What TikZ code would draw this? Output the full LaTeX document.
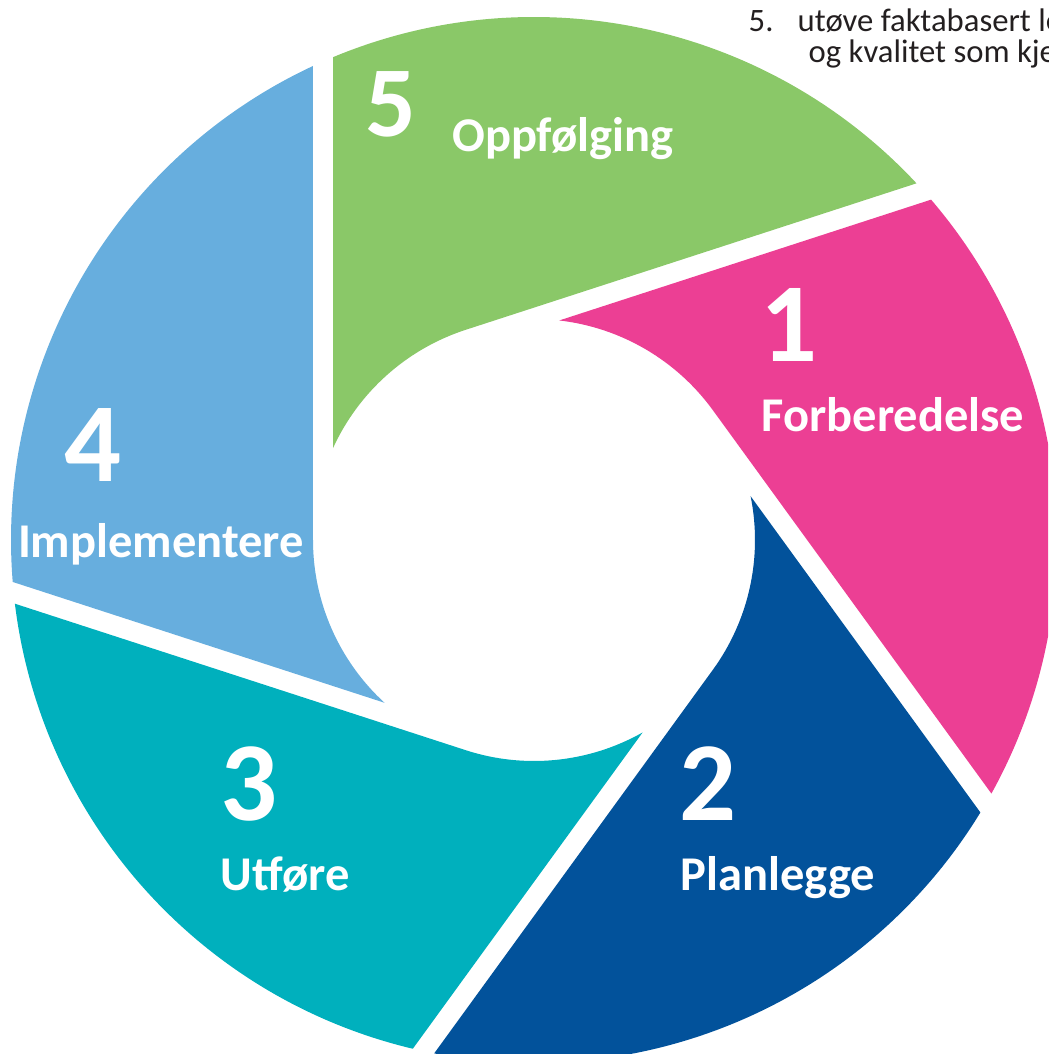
\documentclass[tikz,border=0pt]{standalone}
\usepackage{fontspec}
\setmainfont{Carlito}

\definecolor{fase1}{HTML}{EC3F94}
\definecolor{fase2}{HTML}{02529B}
\definecolor{fase3}{HTML}{00B0BD}
\definecolor{fase4}{HTML}{67AEDE}
\definecolor{fase5}{HTML}{8AC868}
\definecolor{tekst}{HTML}{231F20}

\tikzset{
  stepnum/.style={text=white, inner sep=0pt, anchor=base,
    font=\bfseries\fontsize{32}{32}\selectfont},
  steplabel/.style={text=white, inner sep=0pt, anchor=base,
    font=\bfseries\fontsize{13.8}{14}\selectfont},
  listtext/.style={text=tekst, inner sep=0pt, anchor=base west,
    font=\fontsize{9.3}{11}\selectfont}
}

\begin{document}
\begin{tikzpicture}
  % Ring measures: outer radius, inner radius, width of the cuts
  \pgfmathsetmacro{\Rout}{5.23}
  \pgfmathsetmacro{\Rin}{2.21}
  \pgfmathsetmacro{\cut}{0.20}
  \pgfmathsetmacro{\alph}{acos((\Rin-\cut)/\Rin)}
  \pgfmathsetmacro{\bet}{acos((\Rin-\cut)/\Rout)}
  \pgfmathsetmacro{\gam}{acos(\Rin/\Rout)}

  % Page frame
  \clip (-5.34,-5.14) rectangle (5.14,5.40);

  % Draw the five segments, each cut along a tangent of the inner circle
  \foreach \ta/\col in {180/fase5, 108/fase1, 36/fase2, -36/fase3, -108/fase4} {
    \pgfmathsetmacro{\tb}{\ta-72}
    \fill[\col] ({\ta-\alph}:\Rin)
      arc[start angle={\ta-\alph}, end angle=\tb, radius=\Rin]
      -- ({\tb-\gam}:\Rout)
      arc[start angle={\tb-\gam}, end angle={\ta-\bet}, radius=\Rout] -- cycle;
  }

  % Numbers and names of the steps
  \node[stepnum, font=\bfseries\fontsize{28.5}{28}\selectfont] (n5) at (-1.43,4.03) {5};
  \node[steplabel] (l5) at (0.29,3.88) {Oppfølging};
  \node[stepnum] (n1) at (2.55,1.78) {1};
  \node[steplabel] (l1) at (3.59,1.08) {Forberedelse};
  \node[stepnum] (n2) at (1.74,-2.80) {2};
  \node[steplabel] (l2) at (2.44,-3.50) {Planlegge};
  \node[stepnum] (n3) at (-2.85,-2.80) {3};
  \node[steplabel] (l3) at (-2.49,-3.50) {Utføre};
  \node[stepnum] (n4) at (-4.41,0.58) {4};
  \node[steplabel] (l4) at (-3.73,-0.18) {Implementere};

  % List text at the top
  \node[listtext] (p5) at (2.14,5.08) {5.};
  \node[listtext] (p5a) at (2.63,5.08) {utøve faktabasert le};
  \node[listtext] (p5b) at (2.74,4.77) {og kvalitet som kje};
\end{tikzpicture}
\end{document}
